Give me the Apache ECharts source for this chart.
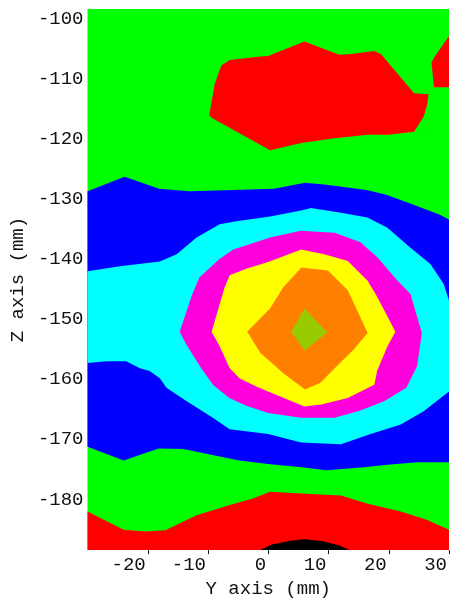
<!DOCTYPE html>
<html>
<head>
<meta charset="utf-8">
<script src="https://cdn.jsdelivr.net/npm/echarts@6/dist/echarts.min.js"></script>
<style>
html,body{margin:0;padding:0;background:#fff;}
#chart{width:451px;height:603px;}
</style>
</head>
<body>
<div id="chart"></div>
<script>
// Axis ranges and ticks (mm)
const yAxisRange = [-30, 30];   // horizontal: "Y axis (mm)"
const zAxisRange = [-190, -100]; // vertical: "Z axis (mm)"
const tickStep = 10;

// Contour regions, [Y, Z] pairs in mm
const greenBase = [[-30,-100],[30,-100],[30,-190],[-30,-190]];
const redTop = [[-0.03,-107.8],[6.0,-105.4],[11.8,-107.6],[13.7,-107.5],[17.6,-107.0],[18.7,-107.5],[22.0,-111.4],[24.2,-114.0],[26.6,-114.2],[26.4,-115.8],[25.8,-117.9],[24.2,-120.4],[19.8,-120.9],[16.5,-120.9],[11.0,-121.5],[5.5,-122.3],[0.3,-123.5],[-9.2,-118.2],[-9.8,-117.7],[-8.9,-112.5],[-7.8,-109.4],[-6.4,-108.5],[-1.3,-107.9]];
const redPatch = [[30,-104.5],[27.5,-108.1],[27.1,-108.9],[27.5,-113.0],[30,-113.0]];
const blueBand = [[-30,-130.3],[-23.85,-127.9],[-18.1,-129.9],[-13.1,-130.3],[-8.7,-130.2],[0.9,-129.9],[6.1,-128.9],[9.7,-129.25],[16.3,-130.1],[19.6,-130.9],[24.0,-132.5],[28.4,-134.2],[30,-135.0],
  [30,-175.4],[24.7,-175.4],[19.8,-175.8],[15.9,-176.2],[9.6,-176.7],[5.5,-176.2],[0.3,-175.7],[-4.8,-175.1],[-9.7,-174.1],[-14.1,-173.2],[-18.2,-173.1],[-24.0,-175.1],[-30,-172.8]];
const cyanZone = [[-30,-143.6],[-24.6,-142.8],[-18.0,-142.0],[-15.2,-140.8],[-11.9,-138.0],[-8.07,-135.8],[-5.3,-135.3],[0.3,-134.5],[5.46,-133.5],[7.1,-133.1],[12.06,-133.9],[16.47,-134.7],[19.77,-136.4],[23.6,-139.7],[26.9,-142.4],[29.1,-145.7],[30,-148.5],
  [30,-163.6],[25.8,-166.9],[22.0,-169.1],[17.0,-170.7],[12.06,-172.4],[5.46,-172.1],[-0.03,-170.7],[-6.4,-169.9],[-9.2,-168.0],[-13.6,-165.2],[-16.9,-163.0],[-18.0,-161.4],[-19.7,-160.2],[-21.3,-159.75],[-23.6,-158.6],[-26.9,-158.6],[-30,-158.9]];
const magentaZone = [[0.3,-138.0],[5.4,-136.9],[11.0,-137.2],[15.3,-138.8],[18.1,-141.3],[21.4,-145.1],[23.6,-147.4],[25.5,-153.9],[24.7,-159.4],[22.9,-163.0],[19.3,-165.2],[15.3,-166.8],[11.0,-168.0],[5.4,-168.0],[-0.03,-167.2],[-3.66,-166.0],[-6.47,-164.7],[-9.1,-162.6],[-11.1,-159.8],[-13.6,-155.8],[-14.7,-153.7],[-12.6,-147.4],[-11.4,-144.6],[-8.1,-141.6],[-5.8,-140.0]];
const yellowZone = [[-0.03,-142.1],[5.46,-140.0],[9.3,-140.8],[13.2,-141.9],[16.5,-145.2],[18.1,-147.9],[21.1,-153.7],[19.8,-156.1],[18.1,-160.1],[17.6,-162.5],[13.2,-164.7],[8.8,-165.8],[6.0,-166.1],[-0.03,-163.6],[-2.0,-162.8],[-4.8,-161.4],[-6.4,-159.75],[-8.07,-156.1],[-9.4,-153.7],[-7.24,-146.3],[-6.4,-144.3],[-3.66,-143.2]];
const orangeZone = [[-3.5,-153.7],[0.3,-149.8],[2.5,-146.3],[5.5,-143.0],[9.9,-143.5],[13.2,-146.8],[16.5,-153.9],[14.1,-156.7],[11.9,-158.9],[8.6,-162.2],[6.1,-163.3],[2.5,-160.6],[-1.3,-157.2]];
const oliveZone = [[6.02,-149.8],[9.8,-153.8],[6.02,-156.8],[3.8,-153.7]];
const redBottom = [[-30,-183.6],[-24.0,-186.6],[-20.45,-186.9],[-17.1,-186.7],[-11.9,-184.2],[-6.4,-182.5],[-2.56,-181.4],[0.3,-180.3],[5.5,-180.6],[12.06,-180.9],[16.5,-182.3],[22.0,-183.6],[26.4,-185.0],[30,-186.6],[30,-190],[-30,-190]];
const blackZone = [[-1.35,-190],[0.6,-189.05],[3.9,-188.4],[6.1,-188.2],[8.9,-188.5],[11.7,-189.2],[13.5,-190]];

const regions = [
  {name:'green', pts: greenBase, color:'#00ff00'},
  {name:'red top', pts: redTop, color:'#ff0000'},
  {name:'red patch', pts: redPatch, color:'#ff0000'},
  {name:'blue', pts: blueBand, color:'#0000ff'},
  {name:'cyan', pts: cyanZone, color:'#00ffff'},
  {name:'magenta', pts: magentaZone, color:'#ff00dd'},
  {name:'yellow', pts: yellowZone, color:'#ffff00'},
  {name:'orange', pts: orangeZone, color:'#ff8000'},
  {name:'olive', pts: oliveZone, color:'#99cc00'},
  {name:'red bottom', pts: redBottom, color:'#ff0000'},
  {name:'black', pts: blackZone, color:'#000000'}
];

const FONT = 'Liberation Mono';
const chart = echarts.init(document.getElementById('chart'), null, {renderer:'canvas'});

const series = regions.map((r, i) => ({
  type: 'custom',
  name: r.name,
  z: 2 + i,
  clip: true,
  silent: true,
  encode: {x: 0, y: 1},
  data: r.pts,
  renderItem: function (params, api) {
    if (params.dataIndex !== 0) return null;
    const points = r.pts.map(p => api.coord(p));
    return {type: 'polygon', shape: {points: points}, style: {fill: r.color, stroke: null}};
  }
}));

chart.setOption({
  animation: false,
  backgroundColor: '#ffffff',
  grid: {left: 84, right: 2, top: 9, bottom: 47},
  xAxis: {
    type: 'value', min: yAxisRange[0], max: yAxisRange[1], interval: tickStep,
    name: 'Y axis (mm)', nameLocation: 'middle', nameGap: 24,
    nameTextStyle: {fontFamily: FONT, fontSize: 19, color: '#111'},
    axisLine: {show: false},
    splitLine: {show: false},
    axisTick: {show: true, length: 4, lineStyle: {color: '#111', width: 1}},
    axisLabel: {showMinLabel: false, align: 'right', margin: 5, padding: [0, 2, 0, 0], fontFamily: FONT, fontSize: 19, color: '#111'}
  },
  yAxis: {
    type: 'value', min: zAxisRange[0], max: zAxisRange[1], interval: tickStep,
    name: 'Z axis (mm)', nameLocation: 'middle', nameGap: 60,
    nameTextStyle: {fontFamily: FONT, fontSize: 19, color: '#111'},
    axisLine: {show: false},
    splitLine: {show: false},
    axisTick: {show: true, length: 3, lineStyle: {color: '#111', width: 1}},
    axisLabel: {showMinLabel: false, verticalAlign: 'top', margin: 4, fontFamily: FONT, fontSize: 19, color: '#111'}
  },
  series: series
});
</script>
</body>
</html>
